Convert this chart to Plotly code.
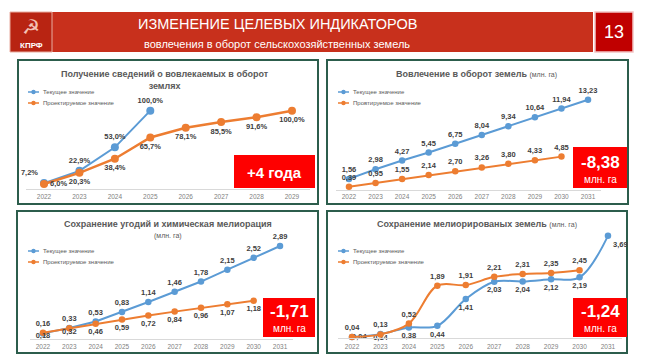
import plotly.graph_objects as go

W, H = 648, 358

# ---------------- data ----------------
years_p1 = ["2022", "2023", "2024", "2025", "2026", "2027", "2028", "2029"]
p1_current = [7.2, 22.9, 53.0, 100.0]
p1_projected = [6.0, 20.3, 38.4, 65.7, 78.1, 85.5, 91.6, 100.0]

years_p2 = ["2022", "2023", "2024", "2025", "2026", "2027", "2028", "2029", "2030", "2031"]
p2_current = [1.56, 2.98, 4.27, 5.45, 6.75, 8.04, 9.34, 10.64, 11.94, 13.23]
p2_projected = [0.39, 0.95, 1.55, 2.14, 2.70, 3.26, 3.80, 4.33, 4.85]

years_p3 = ["2022", "2023", "2024", "2025", "2026", "2027", "2028", "2029", "2030", "2031"]
p3_current = [0.16, 0.33, 0.53, 0.83, 1.14, 1.46, 1.78, 2.15, 2.52, 2.89]
p3_projected = [0.18, 0.32, 0.46, 0.59, 0.72, 0.84, 0.96, 1.07, 1.18]

years_p4 = ["2022", "2023", "2024", "2025", "2026", "2027", "2028", "2029", "2030", "2031"]
p4_current = [0.04, 0.14, 0.38, 0.44, 1.41, 2.03, 2.04, 2.12, 2.19, 3.69]
p4_projected = [0.04, 0.13, 0.52, 1.89, 1.91, 2.21, 2.31, 2.35, 2.45]

name_current = "Текущее значение"
name_projected = "Проектируемое значение"
name_projected_p2 = "Провтируемое значение"

# ---------------- style ----------------
BLUE = "#5b9bd5"
ORANGE = "#ed7d31"
LBL = "#404040"
TICK = "#7f7f7f"
GREEN = "#2c5d4c"
FONT = "Liberation Sans, Arial, sans-serif"
HEAD = "Liberation Sans, Arial, sans-serif"


def px(x):
    return x / W


def py(y):
    return 1 - y / H


def fmt(vals, dec, pct=False):
    out = []
    for v in vals:
        s = f"{v:.{dec}f}".replace(".", ",")
        out.append(s + ("%" if pct else ""))
    return out


fig = go.Figure()

# panel geometry (pixels): x-domain, y top, y zero-line, y max value
panels = [
    dict(n=1, cats=years_p1, x0=26.3, x1=309.7, ytop=95, ybot=188.7, ymax=120.1, so=1),
    dict(n=2, cats=years_p2, x0=335.7, x1=601.3, ytop=95, ybot=189.5, ymax=13.94, so=1),
    dict(n=3, cats=years_p3, x0=29.8, x1=293.2, ytop=240, ybot=338.5, ymax=3.078, so=2),
    dict(n=4, cats=years_p4, x0=337.8, x1=622.2, ytop=230, ybot=338, ymax=3.9, so=2),
]

for p in panels:
    s = "" if p["n"] == 1 else str(p["n"])
    fig.update_layout(**{
        "xaxis" + s: dict(
            domain=[px(p["x0"]), px(p["x1"])], anchor="y" + s, type="category",
            categoryorder="array", categoryarray=p["cats"],
            range=[-0.5, len(p["cats"]) - 0.5], showline=True, linecolor="#d9d9d9",
            linewidth=1, ticks="", ticklen=0, showgrid=False, zeroline=False,
            ticklabelstandoff=p["so"],
            tickfont=dict(size=6.5, color=TICK, family=FONT), fixedrange=True,
        ),
        "yaxis" + s: dict(
            domain=[py(p["ybot"]), py(p["ytop"])], anchor="x" + s,
            range=[0, p["ymax"]], showgrid=False, zeroline=False,
            showticklabels=False, showline=False, ticks="", fixedrange=True,
        ),
    })

LABEL_FONT = dict(size=7.5, color=LBL, family=FONT, weight="bold")


def add_series(n, cats, vals, color, name, text, pos, msize, lw, shape="linear",
               tight=(), tight_pos=None):
    """tight: indices whose label sits right against the point (crowded zone)."""
    s = "" if n == 1 else str(n)
    main_text = ["" if i in tight else t for i, t in enumerate(text)]
    fig.add_trace(go.Scatter(
        x=cats[:len(vals)], y=vals, name=name, mode="lines+markers+text",
        line=dict(color=color, width=lw, shape=shape, smoothing=1.0),
        marker=dict(color=color, size=msize),
        text=main_text, textposition=pos, textfont=LABEL_FONT,
        cliponaxis=False, showlegend=False, xaxis="x" + s, yaxis="y" + s,
        hoverinfo="skip",
    ))
    if tight:
        tight_text = [t if i in tight else "" for i, t in enumerate(text)]
        fig.add_trace(go.Scatter(
            x=cats[:len(vals)], y=vals, name=name, mode="text",
            text=tight_text, textposition=tight_pos or pos, textfont=LABEL_FONT,
            cliponaxis=False, showlegend=False, xaxis="x" + s, yaxis="y" + s,
            hoverinfo="skip",
        ))


# Panel 1
add_series(1, years_p1, p1_current, BLUE, name_current, fmt(p1_current, 1, True),
           ["top left"] + ["top center"] * 3, 8, 2)
add_series(1, years_p1, p1_projected, ORANGE, name_projected, fmt(p1_projected, 1, True),
           ["middle right"] + ["bottom center"] * 7, 8, 2.5)
# Panel 2
add_series(2, years_p2, p2_current, BLUE, name_current, fmt(p2_current, 2),
           "top center", 6.5, 2)
add_series(2, years_p2, p2_projected, ORANGE, name_projected_p2, fmt(p2_projected, 2),
           "top center", 6.5, 2)
# Panel 3
add_series(3, years_p3, p3_current, BLUE, name_current, fmt(p3_current, 2),
           "top center", 6.5, 2)
add_series(3, years_p3, p3_projected, ORANGE, name_projected, fmt(p3_projected, 2),
           "bottom center", 6.5, 2, tight=(0, 1))
# Panel 4
add_series(4, years_p4, p4_current, BLUE, name_current, fmt(p4_current, 2),
           ["bottom right"] + ["bottom center"] * 8 + ["bottom right"], 6.5, 2, "spline",
           tight=(0, 1), tight_pos=["middle right"] + ["bottom center"] * 9)
add_series(4, years_p4, p4_projected, ORANGE, name_projected, fmt(p4_projected, 2),
           "top center", 6.5, 2, "spline")

shapes = []
annotations = []


def rect(x0, y0, x1, y1, fill, line=None, lw=0, layer="below"):
    shapes.append(dict(type="rect", xref="paper", yref="paper",
                       x0=px(x0), x1=px(x1), y0=py(y1), y1=py(y0),
                       fillcolor=fill, layer=layer,
                       line=dict(color=line or fill, width=lw)))


def text(x, y, t, size, color, family=FONT, xanchor="center", bold=False):
    annotations.append(dict(xref="paper", yref="paper", x=px(x), y=py(y),
                            text=t, showarrow=False, xanchor=xanchor, yanchor="middle",
                            font=dict(size=size, color=color, family=family,
                                      weight="bold" if bold else "normal")))


# header
rect(10, 12, 593, 52, "#c8301c")
rect(10, 12, 52, 52, "#b82412", line="#e8ada0", lw=1)
rect(595, 12, 633, 52, "#c00000", line="#f2c4c4", lw=1.5)
text(31, 27, "☭", 20, "#f3c2b4", family="DejaVu Sans")
text(31, 45, "КПРФ", 8, "white", bold=True)
text(277, 24, "ИЗМЕНЕНИЕ ЦЕЛЕВЫХ ИНДИКАТОРОВ", 14.5, "white", family=HEAD)
text(277, 44, "вовлечения в оборот сельскохозяйственных земель", 11, "white", family=HEAD)
text(614, 32, "13", 18, "white")

# panel frames
rect(18, 60, 318, 204, "white", line=GREEN, lw=2)
rect(327, 60, 628, 204, "white", line=GREEN, lw=2)
rect(17, 211, 318, 353, "white", line=GREEN, lw=2)
rect(327, 211, 627, 353, "white", line=GREEN, lw=2)

# panel titles
TITLE = "#595959"
text(165, 80, "Получение сведений о вовлекаемых в оборот<br>землях", 9, TITLE, bold=True)
text(476, 74, "<b>Вовлечение в оборот земель</b> <span style='font-size:7px'>(млн. га)</span>",
     9, TITLE)
text(168, 224, "Сохранение угодий и химическая мелиорация", 9, TITLE, bold=True)
text(168, 236, "(млн. га)", 7, TITLE)
text(477, 224, "<b>Сохранение мелиорированых земель</b> <span style='font-size:7px'>(млн. га)</span>",
     9, TITLE)


# legends
def legend_item(x0, y, color, label):
    shapes.append(dict(type="line", xref="paper", yref="paper",
                       x0=px(x0), x1=px(x0 + 11), y0=py(y), y1=py(y),
                       line=dict(color=color, width=1.5), layer="above"))
    shapes.append(dict(type="circle", xref="paper", yref="paper",
                       x0=px(x0 + 5.5 - 2.2), x1=px(x0 + 5.5 + 2.2),
                       y0=py(y + 2.2), y1=py(y - 2.2),
                       fillcolor=color, line=dict(color=color, width=0), layer="above"))
    text(x0 + 13, y, label, 6, "#595959", xanchor="left")


legend_item(28, 92, BLUE, name_current)
legend_item(28, 103, ORANGE, name_projected)
legend_item(338, 92, BLUE, name_current)
legend_item(338, 103, ORANGE, name_projected_p2)
legend_item(28, 251, BLUE, name_current)
legend_item(28, 262, ORANGE, name_projected)
legend_item(338, 251, BLUE, name_current)
legend_item(338, 262, ORANGE, name_projected)

# red result boxes
RED = "#fe0000"
rect(234, 155, 315, 188, RED, layer="above")
text(274.5, 172, "+4 года", 15, "white", bold=True)
rect(573, 147, 627, 188, RED, layer="above")
text(600, 162, "-8,38", 17, "white", bold=True)
text(600, 179, "млн. га", 10, "white")
rect(263, 298, 315, 337, RED, layer="above")
text(289, 311, "-1,71", 17, "white", bold=True)
text(289, 328, "млн. га", 10, "white")
rect(573, 298, 627, 337, RED, layer="above")
text(600, 311, "-1,24", 17, "white", bold=True)
text(600, 328, "млн. га", 10, "white")

fig.update_layout(
    width=W, height=H, autosize=False,
    margin=dict(l=0, r=0, t=0, b=0, pad=0),
    paper_bgcolor="white", plot_bgcolor="rgba(0,0,0,0)",
    shapes=shapes, annotations=annotations, showlegend=False,
    font=dict(family=FONT),
)

fig.write_html(
    "out.html",
    config={"displayModeBar": False, "staticPlot": True},
    post_script="document.body.style.margin='0';document.body.style.padding='0';"
                "document.body.style.overflow='hidden';",
)
